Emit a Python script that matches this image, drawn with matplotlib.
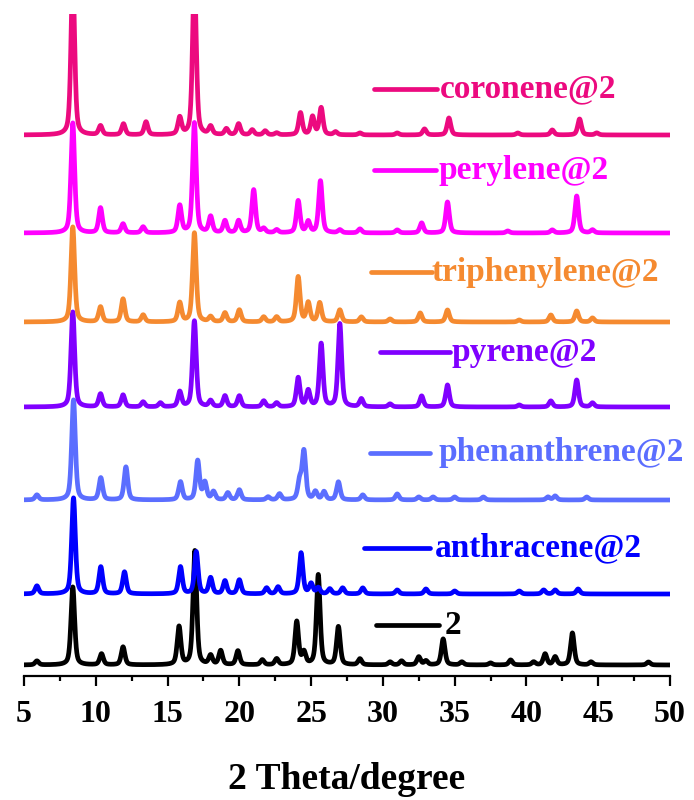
import numpy as np
import matplotlib
matplotlib.use("Agg")
import matplotlib.pyplot as plt
from matplotlib.ticker import MultipleLocator

plt.rcParams['font.family'] = ['Liberation Serif', 'DejaVu Serif']
plt.rcParams['font.weight'] = 'bold'

# peak positions (2theta) and heights
pos_2 = [5.9, 8.4, 10.4, 11.9, 15.8, 16.9, 18.0, 18.7, 19.9, 21.6, 22.6, 24.0, 24.5,
         25.5, 26.9, 28.4, 30.5, 31.3, 32.5, 33.0, 34.2, 35.5, 37.5, 38.9, 40.5,
         41.3, 42.0, 43.2, 44.5, 48.5]
int_2 = [4, 78, 11, 18, 38, 114, 9, 14, 14, 5, 6, 43, 12,
         90, 38, 6, 3, 4, 8, 4, 26, 3, 2, 5, 3,
         11, 8, 32, 3, 3]

pos_anth = [5.9, 8.45, 10.35, 12.0, 15.9, 17.0, 18.0, 19.0, 20.0, 21.9, 22.7, 24.3,
            25.0, 25.5, 26.3, 27.2, 28.6, 31.0, 33.0, 35.0, 39.5, 41.2, 42.0, 43.6]
int_anth = [8, 96, 27, 22, 27, 42, 16, 13, 14, 6, 7, 41,
            10, 6, 5, 6, 6, 4, 5, 3, 3, 4, 4, 5]

pos_phen = [5.9, 8.45, 10.35, 12.1, 15.9, 17.1, 17.6, 18.2, 19.2, 20.0, 22.0, 22.8,
            24.2, 24.5, 25.3, 25.9, 26.9, 28.6, 31.0, 32.5, 33.5, 35.0, 37.0, 41.5,
            42.0, 44.2]
int_phen = [5, 100, 22, 33, 18, 39, 17, 8, 7, 10, 3, 6,
            18, 48, 8, 8, 18, 5, 6, 3, 3, 3, 3, 3,
            4, 3]

pos_pyr = [8.4, 10.33, 11.9, 13.3, 14.5, 15.85, 16.87, 18.0, 19.0, 20.0, 21.7, 22.6,
           24.1, 24.8, 25.7, 27.0, 28.5, 30.5, 32.7, 34.5, 39.5, 41.7, 43.5, 44.6]
int_pyr = [95, 13, 12, 5, 4, 15, 86, 6, 11, 11, 6, 4,
           29, 16, 63, 83, 8, 3, 11, 22, 2, 6, 27, 4]

pos_tri = [8.4, 10.33, 11.9, 13.3, 15.85, 16.87, 18.0, 19.0, 20.0, 21.7, 22.6, 24.1,
           24.8, 25.6, 27.0, 28.5, 30.5, 32.6, 34.5, 39.5, 41.7, 43.5, 44.6]
int_tri = [95, 15, 23, 7, 19, 89, 5, 9, 12, 5, 5, 45,
           19, 19, 12, 5, 3, 9, 12, 2, 7, 11, 4]

pos_pery = [8.4, 10.33, 11.9, 13.3, 15.85, 16.87, 18.0, 19.0, 19.95, 21.0, 21.7, 22.6,
            24.1, 24.8, 25.65, 27.0, 28.4, 31.0, 32.7, 34.5, 38.7, 41.8, 43.5, 44.6]
int_pery = [110, 25, 9, 6, 27, 110, 16, 12, 12, 43, 4, 3,
            32, 11, 52, 3, 4, 3, 10, 31, 2, 3, 37, 3]

pos_coro = [8.4, 10.33, 11.93, 13.5, 15.85, 16.87, 18.0, 19.1, 19.95, 20.9, 21.8, 22.6,
            24.26, 25.1, 25.7, 26.7, 28.4, 31.0, 32.9, 34.6, 39.4, 41.8, 43.7, 44.9]
int_coro = [160, 9, 11, 13, 17, 160, 8, 6, 11, 5, 4, 2,
            22, 18, 27, 3, 2, 2, 6, 17, 2, 5, 16, 2]

names = ['2', 'anthracene@2', 'phenanthrene@2', 'pyrene@2',
         'triphenylene@2', 'perylene@2', 'coronene@2']
peaks = [(pos_2, int_2), (pos_anth, int_anth), (pos_phen, int_phen), (pos_pyr, int_pyr),
         (pos_tri, int_tri), (pos_pery, int_pery), (pos_coro, int_coro)]
colors = ['black', '#0000FF', '#5B6EFF', '#8000FF', '#F58A30', '#FF00FF', '#EC0A7F']
offsets = [11, 82, 176, 269, 354, 443, 541]

# legend entries: line start/end (deg), text x (deg), y
leg_x = [(29.5, 33.9, 34.3), (28.7, 33.3, 33.6), (29.1, 33.3, 33.9), (29.8, 34.7, 34.8),
         (29.2, 33.4, 33.4), (29.4, 33.7, 33.9), (29.4, 33.8, 34.0)]
leg_y = [51, 128, 223, 324, 404, 506, 587]


def pattern(x, pos, hgt, fwhm=0.3, eta=0.5):
    y = np.zeros_like(x)
    s = fwhm / 2.3548
    g = fwhm / 2
    for p, h in zip(pos, hgt):
        gau = np.exp(-0.5 * ((x - p) / s) ** 2)
        lor = 1 / (1 + ((x - p) / g) ** 2)
        y += h * ((1 - eta) * gau + eta * lor)
    return y


x = np.arange(5, 50.001, 0.01)

fig = plt.figure(figsize=(6.94, 8.0), dpi=100)
ax = fig.add_axes([24 / 694, 124 / 800, 646 / 694, 662 / 800])

for (pos, hgt), c, off in zip(peaks, colors, offsets):
    ax.plot(x, pattern(x, pos, hgt) + off, color=c, lw=3.4, solid_joinstyle='round')

for name, c, (x0, x1, xt), yl in zip(names, colors, leg_x, leg_y):
    ax.plot([x0, x1], [yl, yl], color=c, lw=3.4, solid_capstyle='round')
    ax.text(xt, yl, name, color=c, fontsize=24, fontweight='bold',
            va='center', ha='left')

ax.set_xlim(5, 50)
ax.set_ylim(0, 662)
for sp in ['top', 'left', 'right']:
    ax.spines[sp].set_visible(False)
ax.spines['bottom'].set_linewidth(1.6)
ax.set_yticks([])
ax.xaxis.set_major_locator(MultipleLocator(5))
ax.xaxis.set_minor_locator(MultipleLocator(2.5))
ax.tick_params(axis='x', which='major', direction='out', length=7, width=1.6,
               labelsize=23, pad=10)
ax.tick_params(axis='x', which='minor', direction='out', length=3.5, width=1.6)
for lab in ax.get_xticklabels():
    lab.set_fontweight('bold')
ax.set_xlabel('2 Theta/degree', fontsize=27, fontweight='bold', labelpad=24)

fig.savefig('out.png', dpi=100)
